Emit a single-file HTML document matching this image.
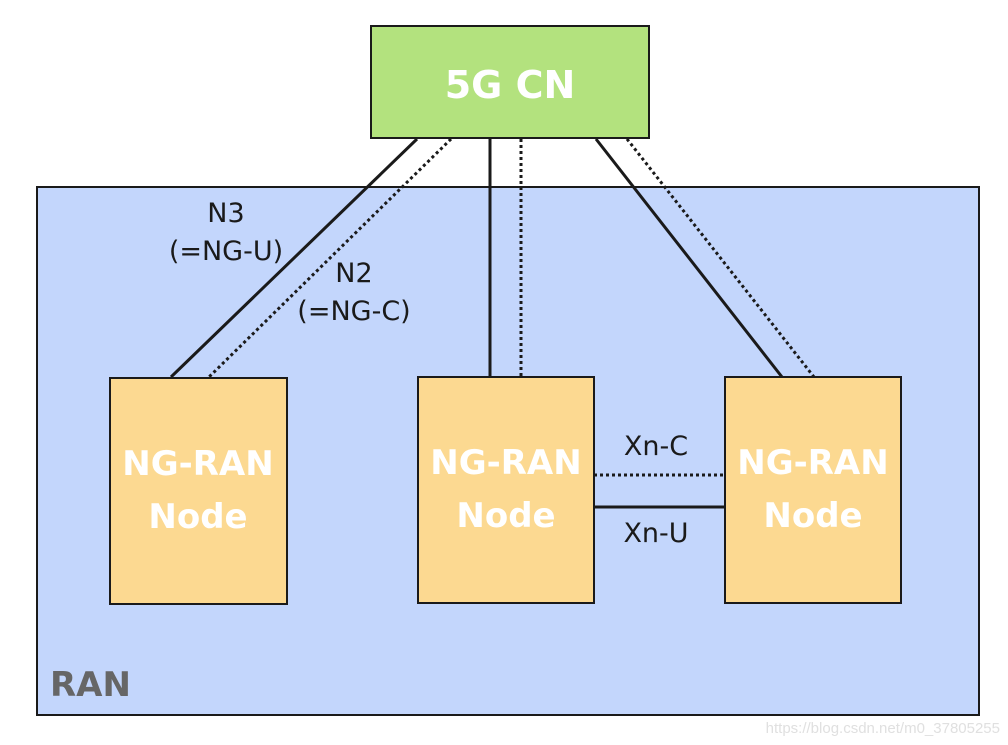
<!DOCTYPE html>
<html><head><style>body{margin:0;background:#fff}svg{display:block}</style></head><body>
<svg width="1008" height="745" xmlns="http://www.w3.org/2000/svg" font-family="DejaVu Sans, Liberation Sans, sans-serif">
<rect x="37" y="187" width="942" height="528" fill="#c3d6fc" stroke="#1a1a1a" stroke-width="2"/>
<rect x="371" y="26" width="278" height="112" fill="#b3e27e" stroke="#1a1a1a" stroke-width="2"/>
<text x="510" y="98" font-size="38" fill="#fff" text-anchor="middle" font-weight="bold">5G CN</text>
<g stroke="#1a1a1a" stroke-width="3" fill="none">
<line x1="417" y1="139" x2="171" y2="377"/>
<line x1="490" y1="139" x2="490" y2="377"/>
<line x1="596" y1="139" x2="782" y2="377"/>
<line x1="594" y1="507" x2="725" y2="507"/>
</g>
<g stroke="#1a1a1a" stroke-width="3" fill="none" stroke-dasharray="3,3">
<line x1="451" y1="139" x2="209" y2="377"/>
<line x1="521" y1="139" x2="521" y2="377"/>
<line x1="627" y1="139" x2="814" y2="377"/>
<line x1="594" y1="475" x2="725" y2="475"/>
</g>
<g fill="#fcd991" stroke="#1a1a1a" stroke-width="2">
<rect x="110" y="378" width="177" height="226"/>
<rect x="418" y="377" width="176" height="226"/>
<rect x="725" y="377" width="176" height="226"/>
</g>
<g font-size="34" fill="#fff" text-anchor="middle" font-weight="bold">
<text x="198" y="475">NG-RAN</text><text x="198" y="528">Node</text>
<text x="506" y="474">NG-RAN</text><text x="506" y="527">Node</text>
<text x="813" y="474">NG-RAN</text><text x="813" y="527">Node</text>
</g>
<g font-size="27" fill="#1a1a1a" text-anchor="middle">
<text x="226" y="222">N3</text><text x="226" y="260">(=NG-U)</text>
<text x="354" y="282">N2</text><text x="354" y="320">(=NG-C)</text>
<text x="656" y="455">Xn-C</text><text x="656" y="542">Xn-U</text>
</g>
<text x="50" y="696" font-size="34" fill="#666" font-weight="bold">RAN</text>
<text x="1000" y="733" font-size="15" fill="#e0e0e0" text-anchor="end" font-family="Liberation Sans, sans-serif">https://blog.csdn.net/m0_37805255</text>
</svg>
</body></html>
